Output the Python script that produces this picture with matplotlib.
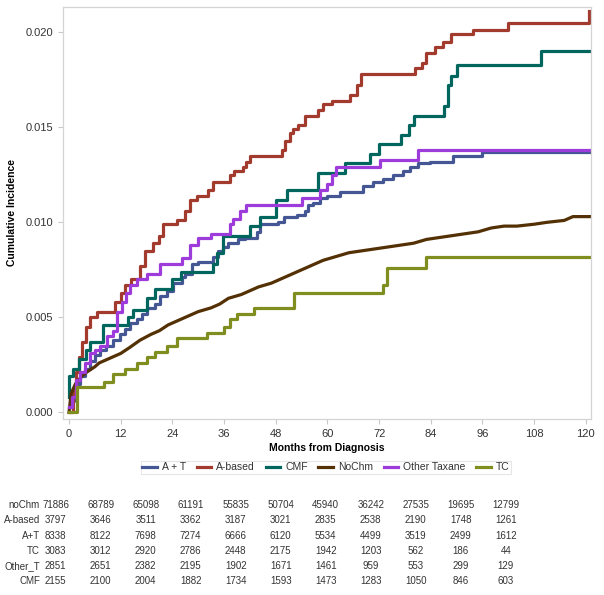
import matplotlib

matplotlib.use("Agg")
import matplotlib.pyplot as plt
from matplotlib.lines import Line2D

plt.rcParams["font.family"] = ["Liberation Sans", "DejaVu Sans"]

# ---- curve data (months, cumulative incidence) ----
at_months = [0, 0.6, 1.2, 1.6, 2.6, 3.7, 4.9, 6.0, 7.2, 8.7, 10.3, 11.8, 13.0, 14.2, 15.7,
             16.9, 18.0, 20.0, 21.1, 22.7, 24.2, 26.2, 26.9, 28.5, 30.0, 33.5, 34.7, 35.8,
             37.0, 39.3, 40.9, 43.6, 44.3, 48.6, 49.8, 52.9, 54.8, 55.6, 56.7, 58.3, 59.8,
             62.9, 68.3, 70.6, 73.0, 75.3, 77.6, 79.2, 81.1, 83.8, 89.2, 95.8, 120.9]
at_vals = [0.0003, 0.0006, 0.0010, 0.0015, 0.0019, 0.0023, 0.0027, 0.0030, 0.0033, 0.0035,
           0.0038, 0.0041, 0.0044, 0.0047, 0.0049, 0.0052, 0.0055, 0.0057, 0.0061, 0.0064,
           0.0068, 0.0071, 0.0073, 0.0078, 0.0079, 0.0082, 0.0085, 0.0087, 0.0089, 0.0091,
           0.0092, 0.0095, 0.0099, 0.0100, 0.0103, 0.0104, 0.0106, 0.0109, 0.0110, 0.0113,
           0.0114, 0.0116, 0.0119, 0.0121, 0.0123, 0.0125, 0.0127, 0.0129, 0.0131, 0.0132,
           0.0135, 0.0137, 0.0137]

ab_months = [0, 1.0, 1.6, 2.2, 2.9, 3.9, 4.9, 6.6, 10.7, 12.0, 13.0, 14.5, 16.5, 17.6, 19.6,
             21.0, 21.9, 25.0, 26.9, 28.1, 29.6, 32.3, 33.4, 37.4, 38.2, 40.4, 41.2, 42.0,
             49.4, 50.1, 51.3, 52.1, 53.2, 54.8, 57.9, 59.0, 61.0, 65.2, 66.8, 67.9, 80.3,
             81.9, 83.0, 85.0, 86.9, 88.8, 93.9, 102.0, 120.7]
ab_vals = [0.0, 0.0012, 0.0021, 0.0029, 0.0037, 0.0045, 0.0050, 0.0053, 0.0058, 0.0063,
           0.0067, 0.0070, 0.0077, 0.0085, 0.0089, 0.0093, 0.0099, 0.0101, 0.0106, 0.0112,
           0.0114, 0.0117, 0.0121, 0.0125, 0.0127, 0.0129, 0.0132, 0.0135, 0.0138, 0.0143,
           0.0147, 0.0149, 0.0151, 0.0156, 0.0159, 0.0162, 0.0164, 0.0167, 0.0172, 0.0178,
           0.0181, 0.0184, 0.0189, 0.0192, 0.0195, 0.0199, 0.0201, 0.0205, 0.0211]

cmf_months = [0, 0.1, 1.0, 2.2, 4.0, 4.9, 8.0, 13.8, 14.9, 18.0, 20.0, 23.8, 26.0, 33.5, 34.3,
              35.8, 42.0, 44.3, 48.0, 50.7, 57.9, 64.0, 70.0, 72.0, 77.0, 79.0, 80.0, 87.0,
              88.0, 88.8, 90.0, 109.7, 120.9]
cmf_vals = [0.0008, 0.0019, 0.0023, 0.0028, 0.0033, 0.0037, 0.0046, 0.0050, 0.0054, 0.0060,
            0.0065, 0.0070, 0.0074, 0.0078, 0.0084, 0.0093, 0.0098, 0.0103, 0.0112, 0.0117,
            0.0126, 0.0131, 0.0136, 0.0141, 0.0146, 0.0151, 0.0156, 0.0161, 0.0172, 0.0177,
            0.0183, 0.0190, 0.0190]

nochm_months = [0, 0.5, 1.5, 3, 4, 6, 7, 9, 12, 14, 16.5, 19, 21, 23, 26, 28, 30, 33, 35, 37,
                40, 42, 44, 47, 49, 51, 54, 56, 59, 62, 65, 68, 71, 74, 77, 80, 83, 86, 89,
                92, 95, 98, 101, 104, 108, 111, 115, 117, 120.9]
nochm_vals = [0.0, 0.0010, 0.0015, 0.0019, 0.0021, 0.0024, 0.0026, 0.0028, 0.0031, 0.0034,
              0.0038, 0.0041, 0.0043, 0.0046, 0.0049, 0.0051, 0.0053, 0.0055, 0.0057, 0.0060,
              0.0062, 0.0064, 0.0066, 0.0068, 0.0070, 0.0072, 0.0075, 0.0077, 0.0080, 0.0082,
              0.0084, 0.0085, 0.0086, 0.0087, 0.0088, 0.0089, 0.0091, 0.0092, 0.0093, 0.0094,
              0.0095, 0.0097, 0.0098, 0.0098, 0.0099, 0.0100, 0.0101, 0.0103, 0.0103]

ot_months = [0, 0.6, 1.6, 2.6, 3.7, 4.9, 6.0, 7.2, 8.9, 10.3, 11.1, 12.2, 13.2, 14.2, 15.7,
             18.0, 21.1, 26.2, 28.1, 30.0, 33.0, 37.4, 38.1, 39.7, 41.2, 54.0, 58.3, 59.8,
             61.0, 62.1, 72.2, 81.1, 120.9]
ot_vals = [0.0003, 0.0008, 0.0017, 0.0021, 0.0026, 0.0031, 0.0033, 0.0035, 0.0040, 0.0043,
           0.0053, 0.0058, 0.0063, 0.0067, 0.0070, 0.0073, 0.0078, 0.0081, 0.0088, 0.0092,
           0.0094, 0.0099, 0.0102, 0.0106, 0.0109, 0.0113, 0.0117, 0.0120, 0.0125, 0.0129,
           0.0133, 0.0138, 0.0138]

tc_months = [0, 1.9, 8.2, 10.3, 13.0, 15.7, 18.0, 20.0, 22.7, 25.0, 32.1, 36.0, 37.4, 38.9,
             42.9, 52.2, 73.0, 73.9, 83.0, 120.9]
tc_vals = [0.0, 0.00135, 0.0016, 0.0020, 0.0023, 0.0026, 0.0029, 0.0032, 0.0035, 0.0039,
           0.0042, 0.0045, 0.0049, 0.0052, 0.0055, 0.0063, 0.0067, 0.0076, 0.0082, 0.0082]

series_names = ["A + T", "A-based", "CMF", "NoChm", "Other Taxane", "TC"]
series_colors = ["#445694", "#A23A2E", "#01665E", "#543005", "#9D3CDB", "#7F8E1F"]
series_data = [(at_months, at_vals), (ab_months, ab_vals), (cmf_months, cmf_vals),
               (nochm_months, nochm_vals), (ot_months, ot_vals), (tc_months, tc_vals)]

# ---- number-at-risk table ----
risk_labels = ["noChm", "A-based", "A+T", "TC", "Other_T", "CMF"]
risk_nochm = [71886, 68789, 65098, 61191, 55835, 50704, 45940, 36242, 27535, 19695, 12799]
risk_abased = [3797, 3646, 3511, 3362, 3187, 3021, 2835, 2538, 2190, 1748, 1261]
risk_at = [8338, 8122, 7698, 7274, 6666, 6120, 5534, 4499, 3519, 2499, 1612]
risk_tc = [3083, 3012, 2920, 2786, 2448, 2175, 1942, 1203, 562, 186, 44]
risk_other = [2851, 2651, 2382, 2195, 1902, 1671, 1461, 959, 553, 299, 129]
risk_cmf = [2155, 2100, 2004, 1882, 1734, 1593, 1473, 1283, 1050, 846, 603]
risk_rows = [risk_nochm, risk_abased, risk_at, risk_tc, risk_other, risk_cmf]

W, H = 604, 595
fig = plt.figure(figsize=(W / 100, H / 100), dpi=100)
ax = fig.add_axes([63 / W, 1 - 419 / H, (591 - 63) / W, (419 - 7) / H])

for (m, v), name, col in zip(series_data, series_names, series_colors):
    if name == "NoChm":
        # many tiny steps in the original: drawn as a dense jagged line
        ax.plot(m, v, color=col, lw=2.3, label=name)
    else:
        ax.step(m, v, where="post", color=col, lw=2.3, label=name)

ax.set_xlim(-1.4, 121.2)
ax.set_ylim(-0.00035, 0.02133)
ax.set_xticks(range(0, 121, 12))
ax.set_yticks([0.0, 0.005, 0.010, 0.015, 0.020])
ax.set_yticklabels(["0.000", "0.005", "0.010", "0.015", "0.020"])
for s in ax.spines.values():
    s.set_color("#d4d4d4")
    s.set_linewidth(0.9)
ax.tick_params(colors="#c8c8c8", labelcolor="#333333", labelsize=8, length=3.5, width=0.8)

ax.set_xlabel("Months from Diagnosis", fontsize=7.5, fontweight="bold", labelpad=3)
ax.set_ylabel("Cumulative Incidence", fontsize=7.5, fontweight="bold", labelpad=6)

handles = [Line2D([], [], color=c, lw=2.3) for c in series_colors]
leg = fig.legend(handles, series_names, loc="center", bbox_to_anchor=(326 / W, 1 - 467.5 / H),
                 ncol=6, fontsize=7.5, frameon=True, fancybox=False, handlelength=1.4,
                 handletextpad=0.5, columnspacing=1.0, borderpad=0.15, labelcolor="#333333")
leg.get_frame().set_edgecolor("#e0e0e0")
leg.get_frame().set_linewidth(0.8)

# table below the chart
for r, (lab, row) in enumerate(zip(risk_labels, risk_rows)):
    y = 1 - (505 + r * 15.3) / H
    fig.text(40 / W, y, lab, ha="right", va="center", fontsize=7, color="#333333")
    for i, n in enumerate(row):
        fig.text((55.7 + i * 45.0) / W, y, str(n), ha="center", va="center",
                 fontsize=7, color="#333333")

fig.savefig("out.png", dpi=100)
